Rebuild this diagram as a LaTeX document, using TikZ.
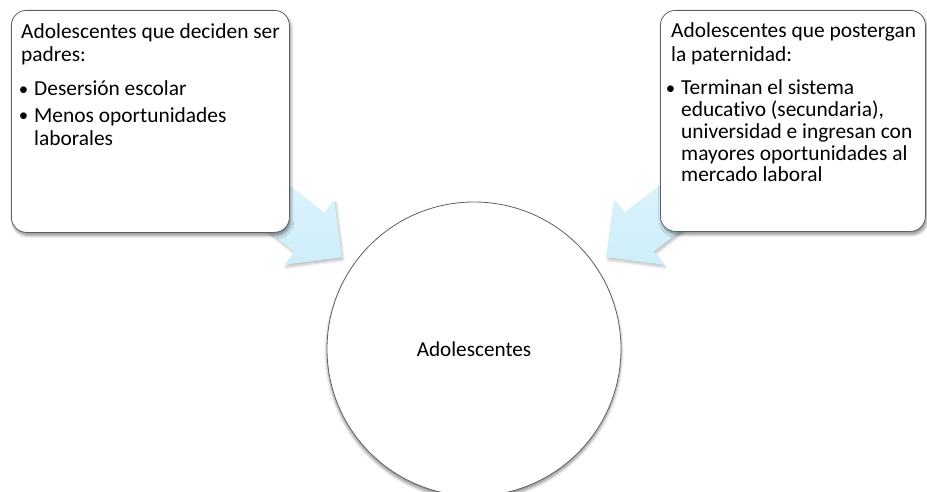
\documentclass[tikz,border=0pt]{standalone}
\usepackage{fontspec}
\setmainfont{Carlito}[Ligatures=NoCommon]
\usetikzlibrary{shadows,shadows.blur}
\definecolor{arrowblue}{RGB}{205,238,250}
\definecolor{arrowlight}{RGB}{228,246,253}
\definecolor{edgegray}{RGB}{95,95,95}
\tikzset{
  txt/.style={anchor=base west, inner sep=0pt, font=\fontsize{21.4}{23}\selectfont},
  textbox/.style={draw=edgegray, line width=0.8pt, fill=white, rounded corners=15pt, anchor=north west,
    blur shadow={shadow blur steps=6, shadow xshift=1.5pt, shadow yshift=-3pt, shadow opacity=45, shadow blur radius=3pt}},
  blockarrow/.style={top color=arrowlight, bottom color=arrowblue, draw=none,
    blur shadow={shadow blur steps=5, shadow xshift=1.5pt, shadow yshift=-2.5pt, shadow opacity=25, shadow blur radius=2.5pt}},
  bigcircle/.style={draw=edgegray, line width=0.8pt, fill=white, circle, minimum size=294pt, inner sep=0pt,
    font=\fontsize{21.2}{23}\selectfont,
    blur shadow={shadow blur steps=6, shadow xshift=0pt, shadow yshift=-3pt, shadow opacity=45, shadow blur radius=3pt}}
}
\newcommand{\bul}{\llap{\raisebox{0.9pt}{\scalebox{0.88}{\textbullet}}\hspace{6pt}}}
\begin{document}
\begin{tikzpicture}[x=1pt,y=-1pt]
\useasboundingbox (0,0) rectangle (927,492);
% block arrows
\coordinate (lt1) at (221.5,133.6);
\coordinate (ls1) at (324.2,212.9);
\coordinate (lh1) at (334.3,199.9);
\coordinate (ltip) at (341.7,257.3);
\coordinate (lh2) at (284.3,264.7);
\coordinate (ls2) at (294.4,251.7);
\coordinate (lt2) at (191.7,172.4);
\path[blockarrow] (lt1) -- (ls1) -- (lh1) -- (ltip) -- (lh2) -- (ls2) -- (lt2) -- cycle;
\coordinate (rt1) at (726.5,133.6);
\coordinate (rs1) at (623.8,212.9);
\coordinate (rh1) at (613.7,199.9);
\coordinate (rtip) at (606.3,257.3);
\coordinate (rh2) at (663.7,264.7);
\coordinate (rs2) at (653.6,251.7);
\coordinate (rt2) at (756.3,172.4);
\path[blockarrow] (rt1) -- (rs1) -- (rh1) -- (rtip) -- (rh2) -- (rs2) -- (rt2) -- cycle;
% boxes
\node (lbox) [textbox, minimum width=278pt, minimum height=222pt] at (11,10) {};
\node (rbox) [textbox, minimum width=265pt, minimum height=221pt] at (660,10) {};
% circle
\node (circ) [bigcircle] at (474,349) {Adolescentes};
% left text
\node (l1) [txt] at (21,38.5) {Adolescentes que deciden ser};
\node (l2) [txt] at (21,61.5) {padres:};
\node (l3) [txt] at (34,96) {\bul Desersión escolar};
\node (l4) [txt] at (34,122.5) {\bul Menos oportunidades};
\node (l5) [txt] at (34,145.5) {laborales};
% right text
\node (r1) [txt] at (671,38) {Adolescentes que postergan};
\node (r2) [txt] at (671,61.5) {la paternidad:};
\node (r3) [txt] at (681,95) {\bul Terminan el sistema};
\node (r4) [txt] at (681,116.7) {educativo (secundaria),};
\node (r5) [txt] at (681,138.4) {universidad e ingresan con};
\node (r6) [txt] at (681,160.1) {mayores oportunidades al};
\node (r7) [txt] at (681,181.8) {mercado laboral};
\end{tikzpicture}
\end{document}
